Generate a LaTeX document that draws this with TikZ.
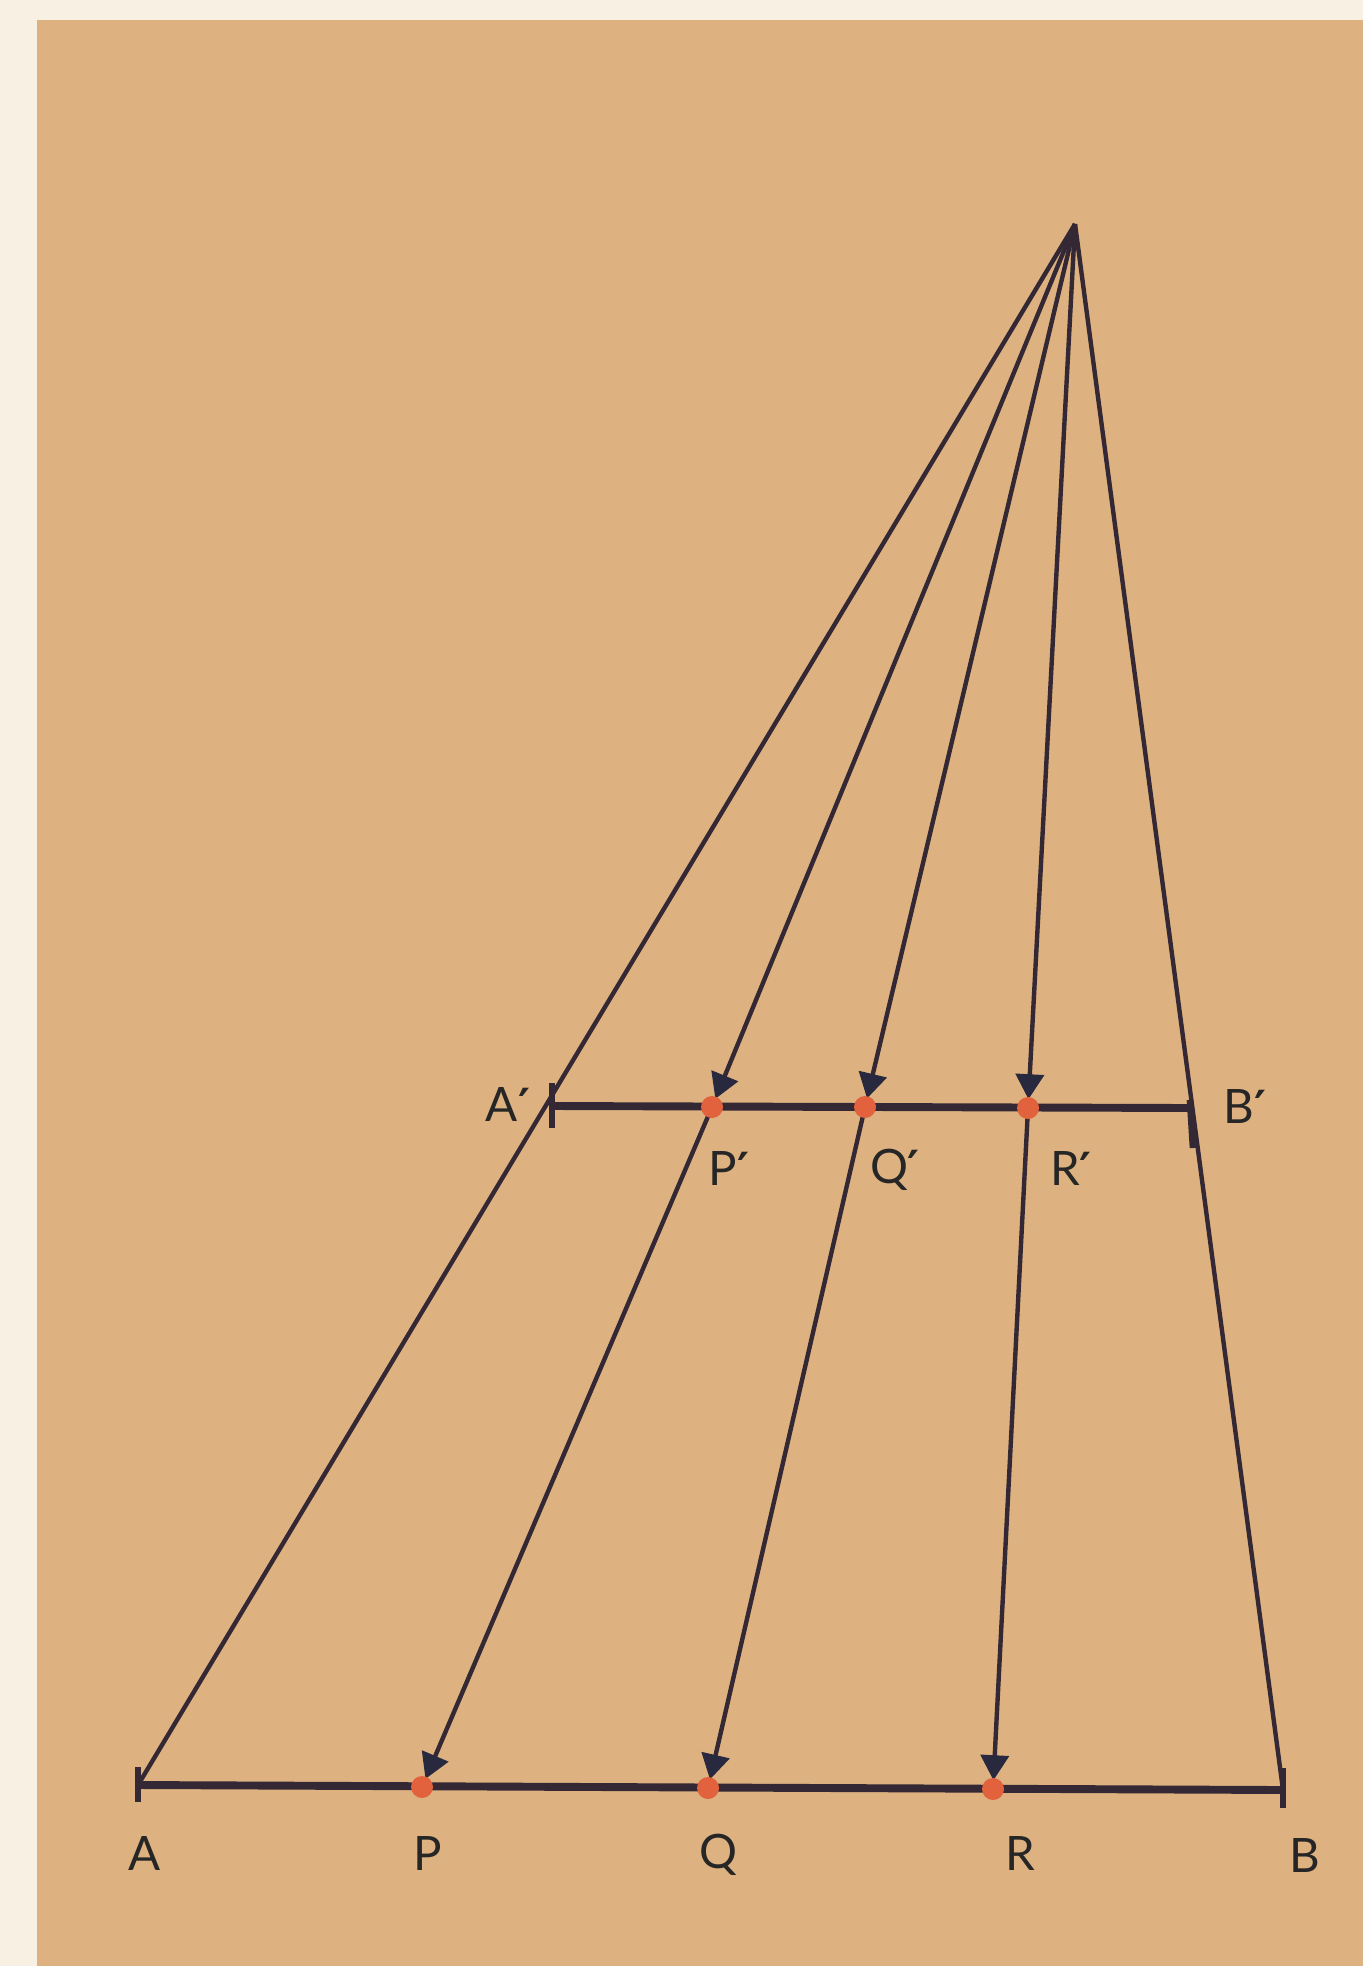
\documentclass[tikz,border=0pt]{standalone}
\usepackage{fontspec}
\setmainfont{Lato}
\newfontfamily\primefont{DejaVu Sans}
\usetikzlibrary{arrows.meta}
\definecolor{tanbg}{RGB}{221,178,128}
\definecolor{creambg}{RGB}{248,240,226}
\definecolor{inkline}{RGB}{52,40,52}
\definecolor{inkhead}{RGB}{40,40,62}
\definecolor{dotred}{RGB}{226,98,62}
\newcommand{\pr}{{\primefont\bfseries\fontsize{26}{26}\selectfont ′}}
\begin{document}
\begin{tikzpicture}[x=0.02cm,y=-0.02cm,
  ray/.style={draw=inkline,line width=2.5pt},
  arrowray/.style={ray,-{Triangle[width=0.56cm,length=0.5cm,color=inkhead]},shorten >=5pt},
  baseline/.style={draw=inkline,line width=4.5pt},
  tick/.style={draw=inkline,line width=3.8pt},
  pt/.style={circle,fill=dotred,inner sep=0pt,minimum size=0.44cm},
  lab/.style={font=\fontsize{27}{27}\selectfont,text=black!85,inner sep=0pt}]
\useasboundingbox (0,0) rectangle (1363,1966);
\fill[creambg] (0,0) rectangle (1363,1966);
\fill[tanbg] (37,20) rectangle (1363,1966);

\coordinate (O) at (1075,224);
\coordinate (A') at (552,1106);
\coordinate (B') at (1190,1108);
\coordinate (A) at (138,1785);
\coordinate (B) at (1283,1790);
\coordinate (P') at (712,1107);
\coordinate (Q') at (865,1107);
\coordinate (R') at (1028,1108);
\coordinate (P) at (422,1787);
\coordinate (Q) at (708,1788);
\coordinate (R) at (993,1789);

% base lines
\draw[baseline] (A') -- (B');
\draw[baseline] (A) -- (B);

% outer rays
\draw[ray] (O) -- (A);
\draw[ray] (O) -- (B);

% end ticks
\draw[tick] (552,1083) -- (552,1128);
\draw[tick] (138,1767) -- (138,1802);
\draw[tick] (1190,1100) -- (1193,1148);
\draw[tick] (1283,1768) -- (1283,1808);

% arrow rays
\foreach \u/\v in {O/P',O/Q',O/R',P'/P,Q'/Q,R'/R}
  \draw[arrowray] (\u) -- (\v);

% dots
\foreach \n in {P',Q',R',P,Q,R}
  \node[pt] (d\n) at (\n) {};

% labels
\node[lab] (lA) at (145,1853) {A};
\node[lab] (lP) at (428,1853) {P};
\node[lab] (lQ) at (718,1855) {Q};
\node[lab] (lR) at (1020,1853) {R};
\node[lab] (lB) at (1305,1855) {B};
\node[lab] (lA') at (508,1104) {A\pr};
\node[lab] (lP') at (729,1168) {P\pr};
\node[lab] (lQ') at (895,1170) {Q\pr};
\node[lab] (lR') at (1071,1168) {R\pr};
\node[lab] (lB') at (1245,1106) {B\pr};
\end{tikzpicture}
\end{document}
